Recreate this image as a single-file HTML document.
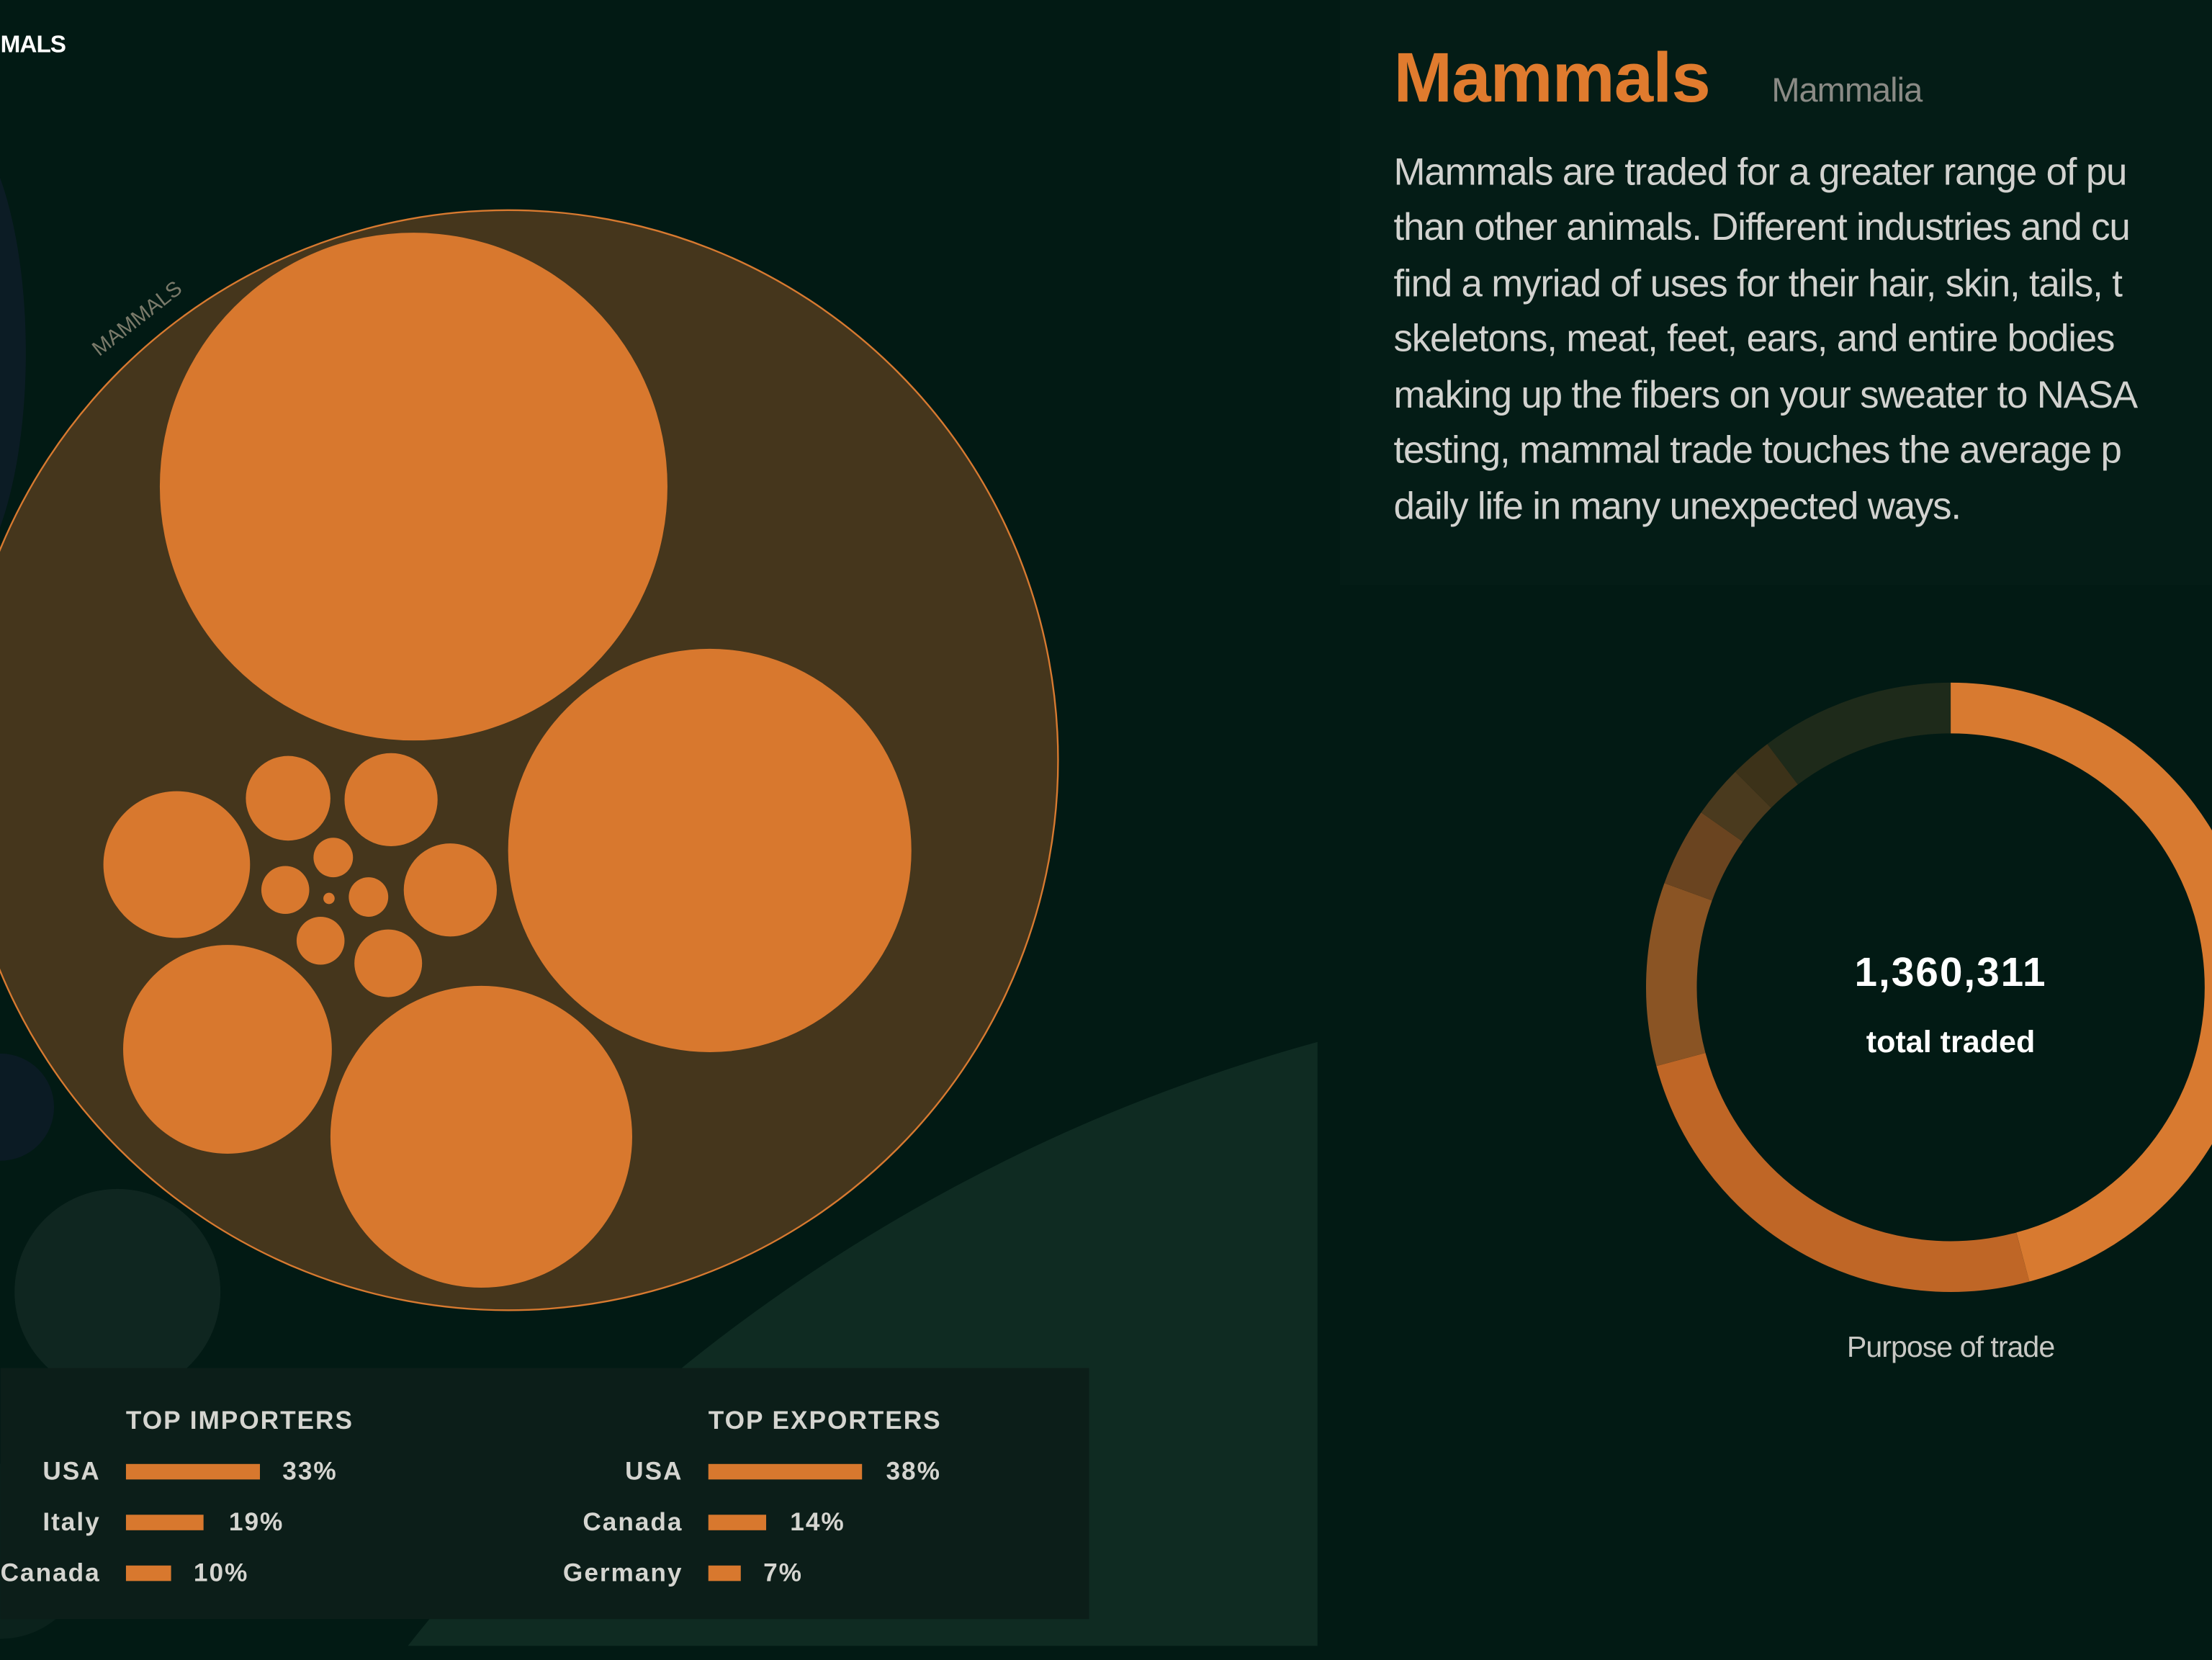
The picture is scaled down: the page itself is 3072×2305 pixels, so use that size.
<!DOCTYPE html>
<html><head><meta charset="utf-8"><style>
html,body{margin:0;padding:0;background:#021a14;width:3072px;height:2305px;overflow:hidden;}
svg{display:block;}
text{font-family:"Liberation Sans",sans-serif;}
</style></head><body>
<svg width="3072" height="2305" viewBox="0 0 1568 1177" xmlns="http://www.w3.org/2000/svg">
<defs><clipPath id="c"><rect x="0" y="0" width="934" height="1167"/></clipPath></defs>
<rect width="1568" height="1177" fill="#021a14"/>
<rect x="950" y="0" width="618" height="415" fill="#041c16"/>
<g clip-path="url(#c)">
<circle cx="1260" cy="1930" r="1235" fill="#0f2b22"/>
</g>
<ellipse cx="-40" cy="250" rx="58" ry="170" fill="#0c1c25"/>
<circle cx="0" cy="785" r="38" fill="#0b1b24"/>
<circle cx="83" cy="916" r="73" fill="#0f2620"/>
<circle cx="0" cy="1100" r="62" fill="#0b221c"/>
<rect x="0" y="970" width="772" height="178" fill="#0c1e19"/>
<circle cx="360" cy="539" r="390" fill="#45361c" stroke="#d87a30" stroke-width="1.2"/>
<g fill="#d8782e">
<circle cx="293" cy="345" r="180"/>
<circle cx="503" cy="603" r="143"/>
<circle cx="341" cy="806" r="107"/>
<circle cx="161" cy="744" r="74"/>
<circle cx="125" cy="613" r="52"/>
<circle cx="204" cy="566" r="30"/>
<circle cx="277" cy="567" r="33"/>
<circle cx="319" cy="631" r="33"/>
<circle cx="275" cy="683" r="24"/>
<circle cx="227" cy="667" r="17"/>
<circle cx="202" cy="631" r="17"/>
<circle cx="236" cy="608" r="14"/>
<circle cx="261" cy="636" r="14"/>
<circle cx="233" cy="637" r="4"/>
</g>
<text x="0" y="37" fill="#fff" font-size="17" font-weight="bold" letter-spacing="-0.5">MALS</text>
<text x="0" y="0" transform="translate(70,253) rotate(-38)" fill="#7a7a6a" font-size="15">MAMMALS</text>
<text x="988" y="72" fill="#e07b2e" font-size="50" font-weight="bold" letter-spacing="-0.5">Mammals</text>
<text x="1256" y="72" fill="#8a8a85" font-size="24" letter-spacing="-0.5">Mammalia</text>
<g fill="#d2d2cf" font-size="27" letter-spacing="-0.6">
<text x="988" y="131">Mammals are traded for a greater range of pu</text>
<text x="988" y="170">than other animals. Different industries and cu</text>
<text x="988" y="210">find a myriad of uses for their hair, skin, tails, t</text>
<text x="988" y="249">skeletons, meat, feet, ears, and entire bodies</text>
<text x="988" y="289">making up the fibers on your sweater to NASA</text>
<text x="988" y="328">testing, mammal trade touches the average p</text>
<text x="988" y="368">daily life in many unexpected ways.</text>
</g>
<g fill="none" stroke-width="36" transform="translate(1383,700)">
<path d="M0,-198 A198,198 0 0 1 51.2,191.3" stroke="#d87a30"/>
<path d="M51.2,191.3 A198,198 0 0 1 -191.3,51.2" stroke="#bf6626"/>
<path d="M-191.3,51.2 A198,198 0 0 1 -186.1,-67.7" stroke="#8a5424"/>
<path d="M-186.1,-67.7 A198,198 0 0 1 -162.2,-113.6" stroke="#6a4420"/>
<path d="M-162.2,-113.6 A198,198 0 0 1 -140,-140" stroke="#4a3a1e"/>
<path d="M-140,-140 A198,198 0 0 1 -119.2,-158.1" stroke="#3c3219"/>
<path d="M-119.2,-158.1 A198,198 0 0 1 0,-198" stroke="#1e2a1a"/>
</g>
<text x="1383" y="699" fill="#fff" font-size="29" font-weight="bold" text-anchor="middle" letter-spacing="1">1,360,311</text>
<text x="1383" y="746" fill="#fff" font-size="22" font-weight="bold" text-anchor="middle">total traded</text>
<text x="1383" y="962" fill="#c8c8c4" font-size="21" text-anchor="middle" letter-spacing="-0.5">Purpose of trade</text>
<g font-size="18" font-weight="bold" fill="#d5d5d0" letter-spacing="1">
<text x="89" y="1013">TOP IMPORTERS</text>
<text x="502" y="1013">TOP EXPORTERS</text>
<text x="71" y="1049" text-anchor="end">USA</text>
<text x="71" y="1085" text-anchor="end">Italy</text>
<text x="71" y="1121" text-anchor="end">Canada</text>
<text x="200" y="1049">33%</text>
<text x="162" y="1085">19%</text>
<text x="137" y="1121">10%</text>
<text x="484" y="1049" text-anchor="end">USA</text>
<text x="484" y="1085" text-anchor="end">Canada</text>
<text x="484" y="1121" text-anchor="end">Germany</text>
<text x="628" y="1049">38%</text>
<text x="560" y="1085">14%</text>
<text x="541" y="1121">7%</text>
</g>
<g fill="#d8782e">
<rect x="89" y="1038" width="95" height="11"/>
<rect x="89" y="1074" width="55" height="11"/>
<rect x="89" y="1110" width="32" height="11"/>
<rect x="502" y="1038" width="109" height="11"/>
<rect x="502" y="1074" width="41" height="11"/>
<rect x="502" y="1110" width="23" height="11"/>
</g>
</svg>
</body></html>
